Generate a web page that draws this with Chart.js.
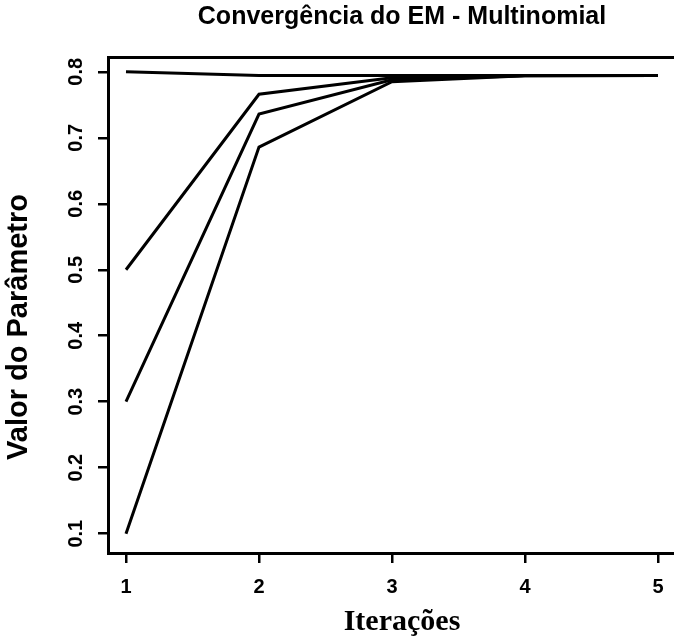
<!DOCTYPE html>
<html>
<head>
<meta charset="utf-8">
<title>Convergência do EM - Multinomial</title>
<script src="https://cdn.jsdelivr.net/npm/chart.js@4.4.1/dist/chart.umd.min.js"></script>
<style>
  html, body { margin: 0; padding: 0; background: #fff; overflow: hidden; }
  #box { width: 674px; height: 642px; overflow: hidden; }
</style>
</head>
<body>
<div id="box"><canvas id="myChart" width="696" height="642"></canvas></div>
<script>
// iterações do EM e o valor do parâmetro em cada uma, partindo de 4 chutes
const iteracoes = [1, 2, 3, 4, 5];
const chute080 = [0.8, 0.7945, 0.7943, 0.7943, 0.7943];
const chute050 = [0.5, 0.766, 0.791, 0.7943, 0.7943];
const chute030 = [0.3, 0.736, 0.788, 0.7942, 0.7943];
const chute010 = [0.1, 0.686, 0.785, 0.794, 0.7943];

const xTicks = [1, 2, 3, 4, 5];
const yTicks = [0.1, 0.2, 0.3, 0.4, 0.5, 0.6, 0.7, 0.8];

const tituloY = "Valor do Parâmetro";

const sans = "'Liberation Sans', Arial, sans-serif";
const serif = "'Liberation Serif', 'Times New Roman', serif";

const toPoints = (vals) => vals.map((v, i) => ({ x: iteracoes[i], y: v }));

const lineStyle = {
  borderColor: "#000",
  borderWidth: 3,
  pointRadius: 0,
  tension: 0,
  fill: false,
};

const axisBase = {
  grid: {
    display: true,
    drawOnChartArea: false,
    drawTicks: true,
    tickLength: 10,
    color: "#000",
    lineWidth: 2.5,
  },
  border: { display: true, color: "#000", width: 3 },
};

// rótulo do eixo y desenhado à mão, um pouco abaixo do centro
const yTitlePlugin = {
  id: "yTitle",
  afterDraw(chart) {
    const { ctx, chartArea } = chart;
    ctx.save();
    ctx.translate(19, (chartArea.top + chartArea.bottom) / 2 + 22);
    ctx.rotate(-Math.PI / 2);
    ctx.font = "bold 29px " + sans;
    ctx.textAlign = "center";
    ctx.textBaseline = "middle";
    ctx.fillStyle = "#000";
    ctx.fillText(tituloY, 0, 0);
    ctx.restore();
  },
};

const ctx = document.getElementById("myChart").getContext("2d");

const myChart = new Chart(ctx, {
  type: "line",
  data: {
    datasets: [
      { ...lineStyle, data: toPoints(chute080) },
      { ...lineStyle, data: toPoints(chute050) },
      { ...lineStyle, data: toPoints(chute030) },
      { ...lineStyle, data: toPoints(chute010) },
    ],
  },
  options: {
    responsive: false,
    animation: false,
    layout: { padding: 0 },
    scales: {
      x: {
        ...axisBase,
        type: "linear",
        position: "bottom",
        min: 0.8647,
        max: 5.286,
        afterBuildTicks: (s) => {
          s.ticks = xTicks.map((v) => ({ value: v }));
        },
        afterFit: (s) => {
          s.height = 89;
        },
        ticks: {
          color: "#000",
          font: { family: sans, size: 20, weight: "bold" },
          padding: 12,
          maxRotation: 0,
          callback: (v) => String(v),
        },
        title: {
          display: true,
          text: "Iterações",
          color: "#000",
          font: { family: serif, size: 30, weight: "bold" },
          padding: { top: 0, bottom: 2 },
        },
      },
      // linha de cima da caixa
      xTop: {
        type: "linear",
        position: "top",
        min: 0.8647,
        max: 5.286,
        grid: { display: false, drawTicks: false },
        ticks: { display: false },
        border: { display: true, color: "#000", width: 3 },
        afterFit: (s) => {
          s.height = 0;
        },
      },
      y: {
        ...axisBase,
        type: "linear",
        min: 0.0707,
        max: 0.8225,
        afterBuildTicks: (s) => {
          s.ticks = yTicks.map((v) => ({ value: v }));
        },
        afterFit: (s) => {
          s.width = 108;
        },
        ticks: {
          color: "#000",
          font: { family: sans, size: 20, weight: "bold" },
          padding: 8,
          minRotation: 90,
          maxRotation: 90,
          crossAlign: "center",
          callback: (v) => v.toFixed(1),
        },
      },
    },
    plugins: {
      legend: { display: false },
      tooltip: { enabled: false },
      title: {
        display: true,
        fullSize: false,
        text: "Convergência do EM - Multinomial",
        color: "#000",
        font: { family: sans, size: 25, weight: "bold" },
        padding: { top: 2, bottom: 25 },
      },
    },
  },
  plugins: [yTitlePlugin],
});
</script>
</body>
</html>
